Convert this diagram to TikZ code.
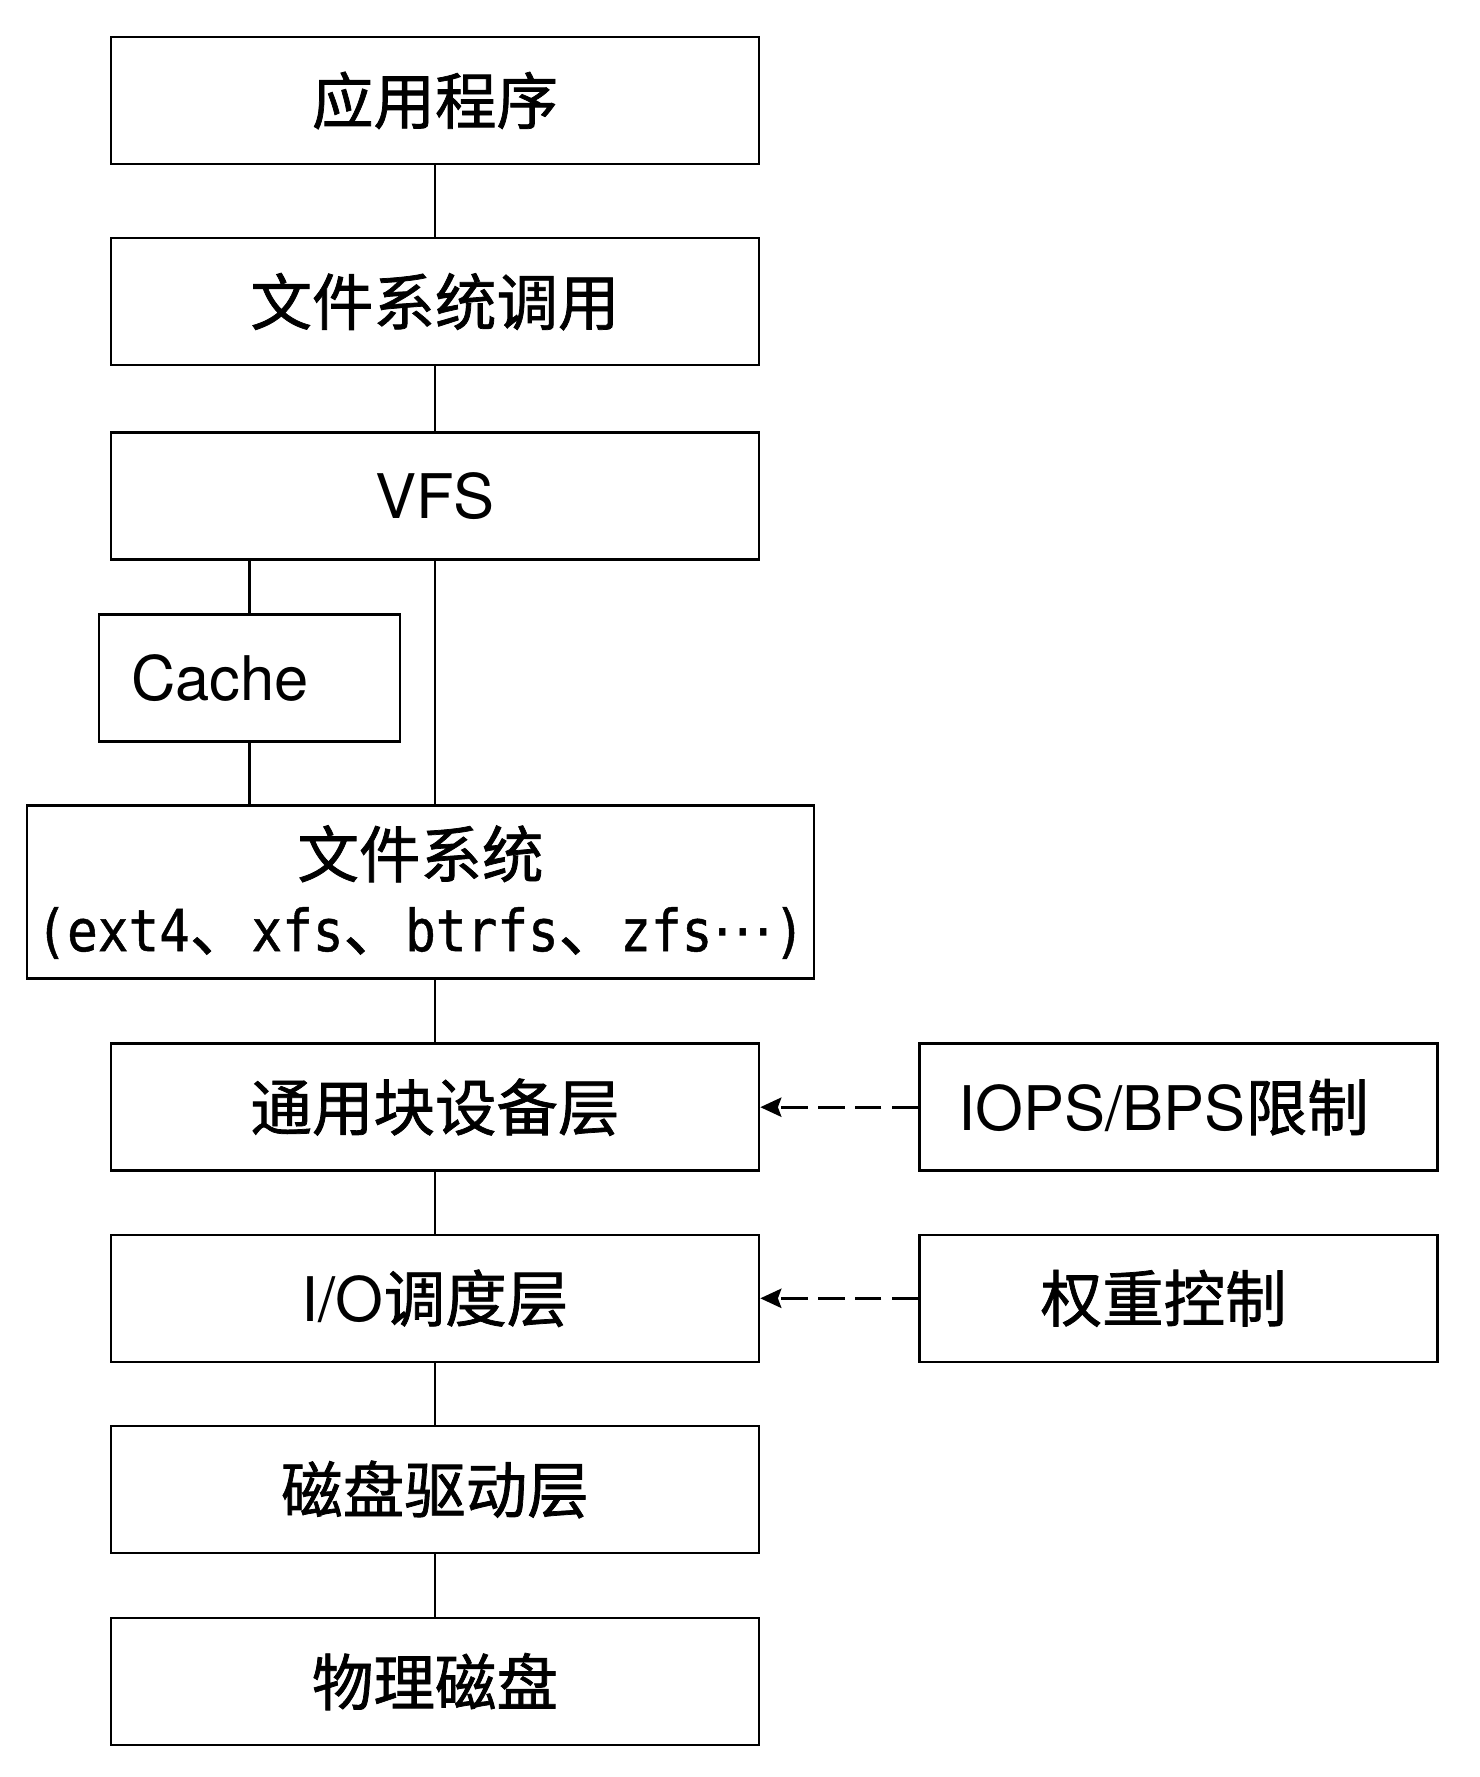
\documentclass[tikz,border=0pt]{standalone}
\usepackage{fontspec}
\setmainfont{TeX Gyre Heros}
\newfontfamily\zh{Noto Sans CJK SC}[FakeBold=1.2]
\newfontfamily\zhmono{DejaVu Sans Mono}[FakeStretch=0.88,FakeBold=0.8]
\newfontfamily\symfont{DejaVu Sans}
\usetikzlibrary{positioning,arrows.meta}

\begin{document}
\begin{tikzpicture}[line width=1.5pt, node distance=1.23cm,
  layer/.style={draw, rectangle, minimum width=12.96cm, minimum height=2.54cm,
    font=\fontsize{35}{42}\selectfont},
  side/.style={layer, minimum width=10.36cm, execute at end node=\hspace{0.6cm}},
  limit/.style={-{Stealth[length=12pt,width=11pt,inset=2pt]}, dash pattern=on 15pt off 6pt}]
  \useasboundingbox (0,0) rectangle (29.6,-35.54);

  \node[layer] (app) at (8.7,-2.01) {\zh 应用程序};
  \node[layer] (sys) [below=1.43cm of app] {\zh 文件系统调用};
  \node[layer] (vfs) [below=1.29cm of sys] {VFS};
  \node[layer, minimum width=6.02cm, text width=4.74cm, inner xsep=0.64cm, align=left]
    (cache) [below right=1.05cm and -0.24cm of vfs.south west] {Cache};
  \node[layer, minimum width=15.74cm, minimum height=3.46cm, align=center]
    (fs) [below right=1.23cm and -1.44cm of cache.south west]
    {\zh 文件系统\\{\zhmono\fontsize{33}{42}\selectfont(ext4{\zh\fontsize{35}{42}\selectfont 、}xfs{\zh\fontsize{35}{42}\selectfont 、}btrfs{\zh\fontsize{35}{42}\selectfont 、}zfs{\symfont\fontsize{35}{42}\selectfont ⋯})}};
  \node[layer] (blk)  [below right=1.25cm and 1.68cm of fs.south west] {\zh 通用块设备层};
  \node[layer] (io)   [below=of blk] {I/O{\zh 调度层}};
  \node[layer] (drv)  [below=of io]  {\zh 磁盘驱动层};
  \node[layer] (disk) [below=1.25cm of drv] {\zh 物理磁盘};
  \node[side]  (iops) [right=3.16cm of blk] {IOPS/BPS{\zh 限制}};
  \node[side]  (wgt)  [right=3.16cm of io]  {\zh 权重控制};

  % stack
  \draw (app) -- (sys);
  \draw (sys) -- (vfs);
  \draw (vfs.south -| cache) -- (cache);
  \draw (cache) -- (cache |- fs.north);
  \draw (vfs) -- (vfs |- fs.north);
  \draw (fs.south -| blk) -- (blk);
  \draw (blk) -- (io);
  \draw (io) -- (drv);
  \draw (drv) -- (disk);

  % cgroup limits
  \draw[limit] (iops) -- (blk);
  \draw[limit] (wgt) -- (io);
\end{tikzpicture}
\end{document}
